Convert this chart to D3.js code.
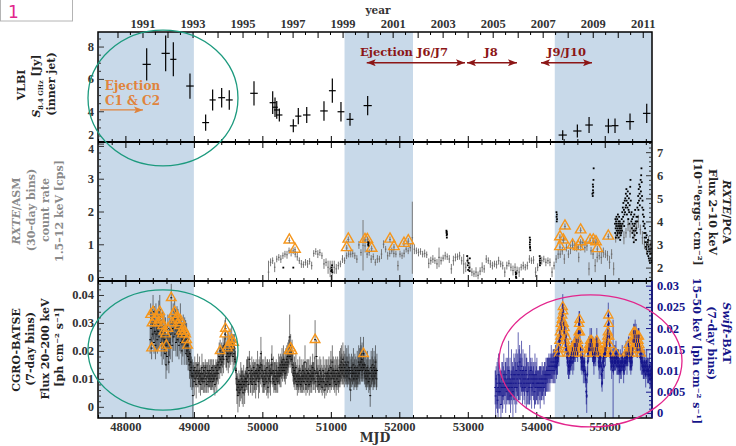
<!DOCTYPE html>
<html>
<head>
<meta charset="utf-8">
<title>Multi-instrument light curves</title>
<script src="https://cdn.jsdelivr.net/npm/d3@7/dist/d3.min.js"></script>
<style>
  html, body { margin: 0; padding: 0; background: #fff; }
  svg { display: block; }
</style>
</head>
<body>
<svg id="chart" width="736" height="446"></svg>
<script>
// ---------------- data ----------------
const mjdRange = [47600, 55690];
const mjdMajorTicks = [48000, 49000, 50000, 51000, 52000, 53000, 54000, 55000];
const yearLabels = [1991, 1993, 1995, 1997, 1999, 2001, 2003, 2005, 2007, 2009, 2011];
const activeEpochs = [[47600, 49000], [51200, 52200], [54270, 55690]];

// VLBI inner-jet flux density at 8.4 GHz [Jy]
const vlbiMjd  = [48311, 48588, 48700, 48943, 49172, 49274, 49406, 49517, 49878, 50151, 50185, 50210, 50248, 50452,
                  50525, 50648, 50900, 51022, 51148, 51280, 51538, 54386, 54600, 54771, 55053, 55150, 55369, 55613];
const vlbiFlux = [6.9, 7.58, 7.21, 5.56, 3.3, 4.7, 4.84, 4.7, 5.11, 4.53, 4.25, 4.08, 3.77, 3.1,
                  3.7, 3.77, 4.02, 5.27, 3.97, 3.5, 4.35, 2.53, 2.78, 3.15, 3.09, 3.11, 3.36, 3.87];
const vlbiErr  = [1.0, 1.1, 1.05, 0.78, 0.5, 0.65, 0.6, 0.6, 0.75, 0.7, 0.6, 0.55, 0.4, 0.4,
                  0.5, 0.5, 0.6, 0.75, 0.6, 0.4, 0.6, 0.3, 0.4, 0.5, 0.45, 0.45, 0.5, 0.6];
const vlbiDays = [60, 60, 45, 55, 50, 45, 50, 50, 55, 45, 40, 40, 45, 50,
                  45, 55, 55, 50, 50, 50, 60, 60, 60, 55, 50, 50, 60, 55];

// RXTE/ASM count rate, 30-day bins [cps]
const asmStart = 50090, asmStep = 30;
const asmRate = [
  .15,.45,.5,.3,.55,.6,.55,.65,.7,.68,
  .8,.75,.8,.7,.62,.5,.4,.38,.45,.4,
  .48,.35,.72,.78,.7,.75,.65,.4,.45,.3,
  .25,.2,.3,.25,.35,.4,.55,.5,.65,.7,
  .7,.72,.65,.55,.98,.75,.97,.95,.7,.75,
  .55,.62,.45,.55,.55,.7,1.0,.85,.65,.72,
  .8,.72,.7,.35,.7,.65,.72,.85,.8,.9,
  1.2,.85,.8,.75,.78,.7,.72,.68,.42,.5,
  .55,.5,.4,.6,.5,.58,.65,.62,.55,.25,
  .5,.6,.62,.65,.5,.4,.3,.55,.3,.15,
  .1,.15,.05,.18,.3,.25,.55,.5,.4,.35,
  .4,.38,.5,.4,.35,.15,.35,.42,.3,.2,
  .3,.2,.15,.3,.35,.3,.35,.55,.5,.52,
  .15,.3,.45,.5,.55,.45,.5,.45,.15,.35,
  .55,.7,.7,.8,.55,.9,.7,.85,1.0,.95,
  .9,.6,.95,1.05,.9,.95,.25,.8,.7,.35,
  .6,.65,.6,.75,.7,.65,.45,.7,.25,1.2,
  1.3,1.4,1.5,1.2,1.35,1.6,1.4,1.5,1.3,1.55,
  1.7,1.45,1.2,1.0,.9,1.1,.9
];
const asmErr = [
  .35,.12,.1,.15,.1,.1,.12,.1,.1,.12,
  .1,.12,.1,.1,.12,.1,.12,.1,.1,.12,
  .1,.12,.1,.1,.12,.1,.1,.15,.12,.2,
  .25,.3,.2,.15,.12,.1,.12,.1,.1,.1,
  .1,.12,.1,.12,.12,.1,.77,.2,.12,.1,
  .12,.1,.1,.12,.1,.15,.12,.1,.12,.1,
  .1,.12,.1,.15,.1,.1,.12,.1,.1,.12,
  1.1,.15,.1,.12,.1,.1,.12,.1,.15,.12,
  .12,.1,.15,.3,.12,.1,.12,.1,.12,.15,
  .15,.12,.1,.12,.12,.3,.15,.12,.15,.12,
  .1,.15,.12,.12,.15,.12,.12,.1,.12,.12,
  .1,.12,.12,.1,.12,.15,.12,.1,.12,.15,
  .12,.12,.15,.1,.12,.1,.12,.12,.1,.12,
  .15,.12,.1,.12,.1,.12,.1,.12,.15,.12,
  .12,.15,.12,.12,.15,.12,.12,.15,.12,.15,
  .12,.15,.15,.12,.15,.15,.2,.12,.15,.2,
  .15,.12,.2,.15,.12,.15,.2,.15,.2,.15,
  .15,.2,.15,.2,.15,.2,.2,.15,.2,.15,
  .2,.15,.2,.15,.2,.15,.2
];
// flagged ASM epochs (open triangles)
const asmFlagMjd  = [50394, 50477, 51232, 51255, 51499, 51533, 51596, 51864, 51922, 52068, 52131,
                     54346, 54346, 54395, 54419, 54530, 54614, 54648, 54648, 54785, 54833, 54872, 54892, 55052];
const asmFlagRate = [1.13, 0.85, 0.90, 1.16, 1.15, 1.15, 0.88, 1.16, 0.93, 1.03, 1.11,
                     1.23, 0.93, 1.13, 1.56, 0.98, 0.93, 1.08, 1.44, 1.13, 1.13, 1.08, 0.87, 1.25];

// RXTE/PCA 2-10 keV flux [1e-10 erg s^-1 cm^-2]
const pcaPoints = [
  [50306,2.0],[50452,2.0],
  [51005,1.85],[51010,2.0],[51014,1.9],[51018,2.1],[51022,1.8],
  [51545,3.0],[51547,3.1],[51549,2.95],[51551,3.05],
  [52688,3.6],[52690,3.5],[52692,3.4],[52694,3.3],[52696,3.45],[52692,3.55],
  [52990,2.5],[52995,2.3],[53000,2.1],[53005,1.9],[53010,2.2],[53020,2.0],[53025,1.85],[53030,2.4],
  [53700,1.8],[53702,1.7],[53704,1.6],[53706,1.75],[53708,1.55],
  [53905,3.3],[53907,3.1],[53909,2.9],[53911,3.2],[53913,2.75],[53906,3.0],[53910,2.85],
  [54050,2.5],[54052,2.3],[54054,2.1],[54056,2.4],[54058,2.2],
  [54295,4.4],[54297,4.2],[54299,4.0],[54301,4.3],[54303,4.1],
  [54820,5.2],[54825,5.1],[54828,5.35],[54830,5.5],[54832,5.25],[54835,5.8],[54838,6.3],[54826,5.6],
  [55150,3.9],[55153,3.5],[55156,4.1],[55159,3.7],[55162,3.3],[55165,4.0],[55168,3.8],[55171,4.2],
  [55174,3.6],[55177,3.9],[55180,3.4],[55183,4.1],[55186,3.7],[55189,3.5],[55192,4.3],[55195,3.8],
  [55198,3.6],[55201,4.0],[55204,3.3],[55207,3.9],[55210,4.2],[55213,3.7],[55216,3.5],[55219,4.0],
  [55222,3.8],[55225,3.2],[55228,3.6],[55231,3.9],[55234,3.4],[55237,3.7],[55240,3.5],
  [55244,3.8],[55248,4.1],[55252,3.6],[55256,4.4],[55260,3.9],[55264,4.6],[55268,4.2],[55272,4.8],
  [55276,4.0],[55280,4.5],[55284,3.8],[55288,4.3],[55292,4.9],[55296,4.4],[55300,5.0],
  [55304,4.6],[55308,5.2],[55312,4.7],[55316,5.4],[55320,4.9],[55324,4.3],[55328,5.1],[55332,4.6],
  [55336,5.3],[55340,4.8],[55344,4.1],[55348,4.5],[55352,5.0],[55356,4.4],[55360,3.9],[55364,4.7],
  [55368,5.2],[55372,5.5],[55376,5.8],[55380,4.9],[55384,4.3],
  [55388,4.0],[55392,4.4],[55396,3.7],[55400,4.1],[55404,3.5],[55408,3.9],[55412,3.3],[55416,4.2],
  [55420,3.6],[55424,3.1],[55428,3.8],[55432,4.3],[55436,3.4],[55440,3.9],[55444,4.5],[55448,3.6],
  [55452,4.0],[55456,3.2],[55460,3.7],[55464,4.2],[55468,3.5],[55472,4.0],[55476,4.6],
  [55480,4.2],[55484,4.8],[55488,5.1],[55492,4.5],[55496,5.4],[55500,4.9],[55504,5.6],[55508,5.2],
  [55512,4.7],[55516,5.5],[55520,5.0],[55524,5.8],[55528,5.3],[55532,6.0],[55536,6.3],[55540,5.7],
  [55544,5.1],[55548,4.6],
  [55552,4.9],[55556,4.3],[55560,4.0],[55564,4.5],[55568,3.8],[55572,4.2],[55576,3.5],[55580,3.9],
  [55584,3.3],[55588,3.7],[55592,3.1],[55596,3.5],[55600,2.9],[55604,3.3],[55608,2.8],[55612,3.4],
  [55616,3.0],[55620,2.6],[55624,3.1],[55628,2.7],[55632,3.2],[55636,2.5],[55640,2.9],[55644,2.4],
  [55648,2.8],[55652,2.3],[55656,2.7],[55660,2.2],[55664,2.6],[55668,3.0],[55672,2.4],[55676,2.8],
  [55680,2.3],[55684,2.6],[55688,2.2]
];

// CGRO/BATSE 20-200 keV flux, 7-day bins [ph cm^-2 s^-1]
const batseStart = 48362, batseStep = 7;
const batseFlux = [
  .024,.033,.028,.021,.030,.026,.034,.029,.023,.031,
  .027,.022,.032,.026,.029,.024,.030,.027,.033,.025,
  .034,.028,.031,.023,.026,.021,.029,.025,.022,.027,
  .024,.019,.026,.015,.022,.018,.025,.028,.021,.016,
  .023,.027,.021,.026,.039,.030,.022,.028,.033,.025,
  .029,.034,.026,.031,.023,.028,.032,.024,.030,.027,
  .022,.029,.025,.031,.023,.027,.020,.026,.024,.028,
  .025,.021,.027,.023,.026,.019,.024,.020,.022,.018,
  .021,.017,.015,.019,.013,.016,.014,.011,.012,.004,
  .011,.013,.009,.014,.010,.012,.008,.013,.011,.015,
  .010,.012,.009,.013,.011,.008,.012,.010,.014,.009,
  .012,.010,.013,.009,.011,.014,.010,.012,.008,.011,
  .013,.009,.012,.010,.011,.013,.009,.012,.010,.014,
  .011,.009,.013,.010,.012,.008,.011,.014,.012,.010,
  .013,.015,.012,.016,.018,.014,.020,.017,.015,.019,
  .016,.018,.021,.017,.019,.022,.026,.028,.020,.018,
  .017,.021,.019,.016,.022,.018,.020,.023,.019,.021,
  .024,.020,.022,.018,.023,.019,.021,.017,.016,.013,
  .010,.006,.008,.004,.007,.009,.005,.008,.006,.011,
  .008,.010,.007,.009,.005,.011,.008,.006,.009,.010,
  .010,.012,.009,.014,.011,.008,.013,.017,.012,.010,
  .009,.011,.013,.008,.012,.010,.014,.009,.011,.012,
  .008,.013,.010,.012,.015,.011,.009,.013,.010,.014,
  .012,.019,.015,.011,.013,.010,.009,.012,.008,.011,
  .013,.010,.012,.009,.014,.011,.007,.012,.010,.013,
  .011,.009,.012,.015,.017,.012,.010,.013,.009,.011,
  .012,.008,.011,.013,.010,.012,.009,.011,.014,.012,
  .013,.011,.015,.012,.014,.016,.013,.015,.017,.014,
  .013,.015,.012,.016,.014,.017,.015,.018,.016,.019,
  .020,.025,.018,.021,.019,.017,.020,.015,.014,.012,
  .011,.013,.010,.012,.014,.009,.011,.008,.012,.010,
  .009,.011,.013,.010,.008,.012,.009,.011,.010,.013,
  .011,.009,.012,.016,.010,.008,.011,.013,.009,.012,
  .010,.012,.008,.011,.013,.009,.011,.010,.012,.014,
  .011,.012,.010,.013,.024,.009,.012,.018,.011,.010,
  .012,.009,.011,.008,.013,.010,.012,.009,.011,.007,
  .010,.013,.009,.011,.006,.012,.010,.008,.012,.011,
  .009,.012,.010,.013,.011,.008,.012,.014,.010,.012,
  .016,.011,.013,.010,.012,.009,.011,.013,.008,.012,
  .010,.013,.011,.009,.012,.014,.011,.015,.013,.016,
  .014,.012,.017,.013,.015,.011,.014,.016,.012,.013,
  .015,.011,.013,.016,.012,.014,.010,.013,.006,.012,
  .014,.011,.013,.012,.015,.010,.012,.014,.011,.013,
  .012,.010,.014,.011,.013,.016,.012,.015,.013,.019,
  .016,.014,.017,.013,.015,.019,.014,.012,.015,.011,
  .013,.010,.012,.014,.011,.013,.009,.012,.010,.004,
  .012,.014,.011,.013,.015,.010,.012,.014,.011,.013,
  .016,.012,.010,.013
];
// 1-sigma errors in units of 0.001 ph cm^-2 s^-1
const batseErrMilli = [
  5,4,6,4,5,4,6,5,4,5, 4,5,5,6,4,5,4,6,5,4, 6,5,4,5,4,6,5,4,5,6, 5,4,6,5,4,5,4,5,6,4,
  5,6,4,5,5,4,6,5,4,5, 4,5,6,4,5,5,4,6,5,4, 5,4,5,6,4,5,5,4,6,5, 4,6,5,4,5,4,6,5,4,5,
  5,4,5,4,6,5,4,5,5,8, 4,3,5,4,3,4,5,3,4,4, 3,4,4,5,3,4,3,4,5,3, 4,5,3,4,4,3,5,4,3,4,
  3,4,5,3,4,4,3,5,4,3, 4,3,4,5,3,4,4,3,4,5, 4,5,4,3,5,4,4,5,3,4, 5,4,4,5,4,3,5,4,6,4,
  4,5,3,4,5,4,4,5,4,3, 5,4,4,5,3,4,5,4,4,5, 4,5,4,6,3,4,5,4,4,5, 5,4,6,4,5,4,4,5,4,3,
  4,5,3,4,6,4,5,3,4,5, 4,3,5,4,4,5,3,4,5,4, 5,4,4,3,5,4,6,4,5,4, 4,6,5,4,4,5,4,5,3,4,
  5,4,4,5,3,6,4,4,5,4, 4,5,4,4,5,4,3,5,4,5, 4,3,5,4,5,4,4,3,5,4, 5,4,4,5,4,5,4,4,5,4,
  4,5,4,5,4,5,4,5,4,5, 5,8,4,5,4,5,4,4,5,4, 4,5,4,4,5,3,4,4,5,4, 4,4,5,4,3,5,4,4,5,4,
  5,4,4,6,4,4,5,4,4,5, 4,5,4,4,5,4,4,5,4,5, 5,4,4,5,7,4,5,6,4,4, 5,4,4,3,5,4,5,4,4,3,
  4,5,4,4,3,5,4,4,5,4, 4,5,4,5,4,3,5,6,4,5, 6,4,5,4,5,4,4,5,4,5, 4,5,4,4,5,6,4,6,5,6,
  5,4,6,5,5,4,5,6,4,5, 6,4,5,6,4,5,4,5,4,5, 5,4,5,4,6,4,5,5,4,5, 5,4,6,4,5,6,4,6,5,6,
  6,5,6,4,5,6,5,4,5,4, 5,4,5,6,4,5,4,5,4,4, 5,6,4,5,6,4,5,6,4,5, 6,5,4,6
];
// BATSE bins marked with open triangles
const batseFlagged = [1,3,4,6,9,12,16,18,20,22,25,26,29,32,34,37,44,45,48,51,53,56,58,61,63,65,67,69,72,74,76,78,
                      146,156,157,161,164,167,170,174,290,293,296,344,445];

// Swift/BAT 15-50 keV flux, 7-day bins [ph cm^-2 s^-1]
const batStart = 53400, batStep = 7;
const batFlux = [
  .006,.004,.008,.005,.007,.003,.006,.009,.005,.007,
  .005,.007,.002,.006,.008,.006,.004,.007,.009,.006,
  .007,.008,.006,.009,.005,.007,.008,.006,.010,.007,
  .006,.008,.004,.007,.009,.006,.008,.005,.007,.009,
  .008,.006,.009,.007,.010,.006,.008,.009,.011,.007,
  .009,.012,.008,.010,.007,.011,.009,.006,.010,.008,
  .007,.009,.006,.008,.010,.007,.009,.005,.008,.007,
  .008,.006,.009,.007,.010,.008,.006,.009,.007,.008,
  .007,.009,.005,.008,.006,.009,.007,.008,.006,.007,
  .007,.006,.008,.007,.006,.008,.007,.006,.008,.007,
  .007,.008,.006,.009,.008,.007,.009,.008,.010,.009,
  .010,.009,.011,.010,.009,.011,.010,.012,.011,.010,
  .011,.012,.011,.010,.012,.011,.013,.012,.011,.013,
  .012,.013,.015,.014,.017,.019,.018,.021,.020,.022,
  .023,.025,.024,.021,.019,.020,.017,.016,.018,.015,
  .013,.012,.014,.011,.010,.012,.011,.013,.012,.014,
  .013,.015,.012,.014,.013,.016,.015,.014,.016,.017,
  .015,.016,.014,.017,.019,.021,.022,.019,.015,.013,
  .012,.011,.013,.012,.010,.011,.012,.010,.009,.008,
  .005,.004,.009,.012,.014,.015,.016,.015,.017,.016,
  .015,.017,.016,.014,.015,.013,.012,.014,.013,.015,
  .014,.016,.017,.015,.016,.014,.012,.011,.013,.012,
  .013,.011,.009,.007,.010,.012,.013,.011,.014,.015,
  .014,.015,.016,.017,.018,.019,.023,.021,.018,.016,
  .014,.013,.012,.011,.013,.012,.010,.011,.013,.012,
  .013,.012,.014,.013,.011,.012,.013,.012,.011,.010,
  .011,.012,.010,.011,.012,.013,.012,.011,.010,.011,
  .012,.013,.012,.014,.013,.012,.013,.014,.016,.015,
  .014,.013,.012,.011,.013,.012,.014,.015,.017,.019,
  .018,.017,.019,.016,.018,.017,.015,.016,.018,.017,
  .018,.016,.015,.013,.014,.012,.013,.011,.012,.010,
  .011,.010,.012,.011,.009,.010,.012,.011,.010,.009,
  .010,.009,.011,.008,.009,.010,.008
];
// 1-sigma errors in units of 0.001 ph cm^-2 s^-1
const batErrMilli = [
  4,6,3,4,5,3,7,5,4,3, 4,3,5,4,4,6,3,4,5,4, 3,4,6,4,3,4,5,4,7,4, 4,5,4,3,6,4,4,6,4,5,
  5,4,3,7,5,4,4,5,8,4, 6,4,5,4,3,6,4,4,5,3, 4,5,4,3,4,6,4,3,4,5, 3,4,7,4,3,4,5,4,3,4,
  4,3,4,6,4,3,4,5,4,3, 3,4,3,4,5,3,4,3,4,3, 4,3,4,3,4,3,4,3,3,4, 3,4,3,3,4,3,3,4,3,3,
  3,3,4,3,3,4,3,3,3,4, 3,2,3,3,2,3,3,2,3,2, 3,3,2,3,2,2,3,2,3,2, 2,3,2,3,2,3,2,3,2,3,
  3,2,3,2,3,2,3,2,3,2, 2,3,2,3,2,3,2,3,2,3, 2,2,3,2,3,2,2,3,2,2, 3,4,2,3,2,3,2,2,3,2,
  2,3,2,2,3,2,3,2,2,3, 3,2,3,2,2,3,2,3,2,3, 2,3,3,2,3,2,2,3,2,2, 3,2,3,2,3,2,3,2,2,3,
  2,3,2,3,2,2,12,2,3,2, 3,2,3,2,2,3,2,3,2,3, 2,3,2,3,2,3,2,2,3,2, 3,2,2,3,2,3,2,3,2,3,
  2,3,2,2,3,2,3,2,3,2, 3,2,3,2,3,2,2,3,2,3, 2,3,2,3,2,3,2,2,3,2, 3,2,3,2,3,2,3,2,3,2,
  3,2,3,2,3,2,3
];
const batFlagLevel = 0.0135;   // BAT bins at or above this level during the last epoch carry a triangle
const batFlagFrom = 54270;

// jet ejection episodes (MJD ranges)
const ejectionC = { from: 47629, to: 48257 };
const ejections = [
  { label: "Ejection J6/J7", from: 51524, to: 52959 },
  { label: "J8",             from: 52988, to: 53718 },
  { label: "J9/J10",         from: 54069, to: 54814 }
];

// ---------------- layout ----------------
const L = 98, R = 652;
const P1 = [32, 142], P2 = [142, 281], P3 = [281, 418];
const NUM_FONT = '"Liberation Serif", "Times New Roman", serif';
const TXT_FONT = '"DejaVu Serif", "Liberation Serif", serif';
const SHADE = "#c8d9e9";
const TRI = "#f5961c";
const NAVY = "#14148a";
const TEAL = "#1c9a7e";
const PINK = "#e3258c";
const DARKRED = "#8c1616";
const ORANGE = "#e0843c";

const x  = d3.scaleLinear().domain(mjdRange).range([L, R]);
const yV = d3.scaleLinear().domain([2.1, 8.9]).range([P1[1], P1[0]]);
const yA = d3.scaleLinear().domain([-0.12, 4.12]).range([P2[1], P2[0]]);
const yP = d3.scaleLinear().domain([1.42, 7.44]).range([P2[1], P2[0]]);
const yB = d3.scaleLinear().domain([-0.0040, 0.0450]).range([P3[1], P3[0]]);
const yS = d3.scaleLinear().domain([-0.0012, 0.0311]).range([P3[1], P3[0]]);

const svg = d3.select("#chart");
const defs = svg.append("defs");
[["cV", P1], ["cA", P2], ["cB", P3]].forEach(([id, p]) => {
  defs.append("clipPath").attr("id", id).append("rect")
    .attr("x", L).attr("y", p[0]).attr("width", R - L).attr("height", p[1] - p[0]);
});
function marker(id, color) {
  defs.append("marker").attr("id", id).attr("markerUnits", "userSpaceOnUse")
    .attr("markerWidth", 9).attr("markerHeight", 7).attr("refX", 9).attr("refY", 3.5)
    .attr("orient", "auto-start-reverse")
    .append("path").attr("d", "M0,0 L9,3.5 L0,7 L2,3.5 Z").attr("fill", color);
}
marker("headRed", DARKRED);
marker("headOrange", ORANGE);

// small boxed tag in the corner
svg.append("rect").attr("x", 0.5).attr("y", -1).attr("width", 72).attr("height", 22)
  .attr("fill", "#fff").attr("stroke", "#b4b4b4");
svg.append("text").attr("x", 8).attr("y", 18).attr("font-family", '"DejaVu Sans", sans-serif')
  .attr("font-size", 17).attr("fill", "#e2268c").text("1");

// active-state epochs
activeEpochs.forEach(([a, b]) => {
  svg.append("rect").attr("x", x(a)).attr("y", P1[0]).attr("width", x(b) - x(a))
    .attr("height", P3[1] - P1[0]).attr("fill", SHADE);
});

// ---------------- VLBI ----------------
const gV = svg.append("g").attr("clip-path", "url(#cV)").attr("stroke", "#000").attr("stroke-width", 1.2);
vlbiMjd.forEach((m, i) => {
  gV.append("line").attr("x1", x(m)).attr("x2", x(m))
    .attr("y1", yV(vlbiFlux[i] - vlbiErr[i])).attr("y2", yV(vlbiFlux[i] + vlbiErr[i]));
  gV.append("line").attr("x1", x(m - vlbiDays[i])).attr("x2", x(m + vlbiDays[i]))
    .attr("y1", yV(vlbiFlux[i])).attr("y2", yV(vlbiFlux[i]));
});

// ---------------- ASM + PCA ----------------
const gA = svg.append("g").attr("clip-path", "url(#cA)");
asmRate.forEach((v, i) => {
  const m = asmStart + i * asmStep;
  gA.append("line").attr("x1", x(m)).attr("x2", x(m))
    .attr("y1", yA(v - asmErr[i])).attr("y2", yA(v + asmErr[i]))
    .attr("stroke", "#7a7a7a").attr("stroke-width", 1);
  gA.append("line").attr("x1", x(m - asmStep / 2) + 0.3).attr("x2", x(m + asmStep / 2) - 0.3)
    .attr("y1", yA(v)).attr("y2", yA(v)).attr("stroke", "#6a6a6a").attr("stroke-width", 1.2);
});
const triSym = (s) => d3.symbol(d3.symbolTriangle).size(s)();
asmFlagMjd.forEach((m, i) => {
  const g = gA.append("g").attr("transform", `translate(${x(m)},${yA(asmFlagRate[i])})`);
  g.append("path").attr("d", triSym(48)).attr("fill", "none").attr("stroke", TRI).attr("stroke-width", 1.4);
  g.append("line").attr("x1", 0).attr("x2", 0).attr("y1", -2.5).attr("y2", 3)
    .attr("stroke", "#777").attr("stroke-width", 1);
  g.append("line").attr("x1", -1).attr("x2", 1).attr("y1", 0.5).attr("y2", 0.5)
    .attr("stroke", "#777").attr("stroke-width", 1);
});
pcaPoints.forEach(([m, f]) => {
  gA.append("rect").attr("x", x(m) - 0.9).attr("y", yP(f) - 0.9).attr("width", 1.8).attr("height", 1.8)
    .attr("fill", "#000");
});

// ---------------- BATSE + BAT ----------------
const gB = svg.append("g").attr("clip-path", "url(#cB)");
batseFlux.forEach((v, i) => {
  const m = batseStart + i * batseStep, e = batseErrMilli[i] / 1000;
  gB.append("line").attr("x1", x(m)).attr("x2", x(m)).attr("y1", yB(v - e)).attr("y2", yB(v + e))
    .attr("stroke", "#222").attr("stroke-opacity", 0.6).attr("stroke-width", 1);
  gB.append("line").attr("x1", x(m) - 1).attr("x2", x(m) + 1).attr("y1", yB(v)).attr("y2", yB(v))
    .attr("stroke", "#000").attr("stroke-width", 1);
});
batseFlagged.forEach(i => {
  const m = batseStart + i * batseStep;
  gB.append("path").attr("transform", `translate(${x(m)},${yB(batseFlux[i])})`)
    .attr("d", triSym(40)).attr("fill", "none").attr("stroke", TRI).attr("stroke-width", 1.4);
});
batFlux.forEach((v, i) => {
  const m = batStart + i * batStep, e = batErrMilli[i] / 1000;
  gB.append("line").attr("x1", x(m)).attr("x2", x(m)).attr("y1", yS(v - e)).attr("y2", yS(v + e))
    .attr("stroke", NAVY).attr("stroke-opacity", 0.65).attr("stroke-width", 1);
  gB.append("line").attr("x1", x(m) - 1).attr("x2", x(m) + 1).attr("y1", yS(v)).attr("y2", yS(v))
    .attr("stroke", NAVY).attr("stroke-width", 1);
});
batFlux.forEach((v, i) => {
  const m = batStart + i * batStep;
  if (m >= batFlagFrom && v >= batFlagLevel) {
    gB.append("path").attr("transform", `translate(${x(m)},${yS(v)})`)
      .attr("d", triSym(36)).attr("fill", "none").attr("stroke", TRI).attr("stroke-width", 1.3);
  }
});
// redraw BAT points on top of the triangles
batFlux.forEach((v, i) => {
  const m = batStart + i * batStep;
  if (m >= batFlagFrom) {
    gB.append("line").attr("x1", x(m)).attr("x2", x(m)).attr("y1", yS(v) - 2).attr("y2", yS(v) + 2)
      .attr("stroke", NAVY).attr("stroke-width", 1);
  }
});

// ---------------- frames ----------------
const frame = svg.append("g").attr("fill", "none").attr("stroke", "#000");
frame.append("rect").attr("x", L).attr("y", P1[0]).attr("width", R - L).attr("height", P3[1] - P1[0])
  .attr("stroke-width", 1.5);
[P1[1], P2[1]].forEach(yy => {
  frame.append("line").attr("x1", L).attr("x2", R).attr("y1", yy).attr("y2", yy).attr("stroke-width", 2.2);
});
frame.append("line").attr("x1", R).attr("x2", R).attr("y1", P3[0]).attr("y2", P3[1])
  .attr("stroke", NAVY).attr("stroke-width", 1.5);

// ---------------- axes ----------------
function styleAxis(g, color, size) {
  g.attr("font-family", NUM_FONT).attr("font-size", size).attr("font-weight", "bold");
  g.select(".domain").remove();
  g.selectAll(".tick line").attr("stroke", color).attr("stroke-width", 1);
  g.selectAll(".tick text").attr("fill", color);
  return g;
}
function vAxis(scale, side, x0, major, minor, fmt, color, pad) {
  const make = side === "left" ? d3.axisLeft : d3.axisRight;
  styleAxis(svg.append("g").attr("transform", `translate(${x0},0)`)
    .call(make(scale).tickValues(minor).tickSizeInner(-3).tickSizeOuter(0).tickFormat("")), color, 12);
  return styleAxis(svg.append("g").attr("transform", `translate(${x0},0)`)
    .call(make(scale).tickValues(major).tickSizeInner(-6).tickSizeOuter(0).tickPadding(pad).tickFormat(fmt)), color, 12.5);
}
function hTicks(y0, dir, labels) {
  const make = dir === "up" ? d3.axisBottom : d3.axisTop;
  const minor = d3.range(47600, 55700, 200).filter(v => v % 1000 !== 0);
  styleAxis(svg.append("g").attr("transform", `translate(0,${y0})`)
    .call(make(x).tickValues(minor).tickSizeInner(-3).tickSizeOuter(0).tickFormat("")), "#000", 12);
  const g = svg.append("g").attr("transform", `translate(0,${y0})`)
    .call(make(x).tickValues(mjdMajorTicks).tickSizeInner(-6).tickSizeOuter(0).tickPadding(4)
      .tickFormat(labels ? d3.format("d") : ""));
  return styleAxis(g, "#000", 12.5);
}
hTicks(P1[1], "up", false);
hTicks(P2[0], "down", false);
hTicks(P2[1], "up", false);
hTicks(P3[0], "down", false);
const gBottom = hTicks(P3[1], "up", true);
gBottom.selectAll(".tick text").attr("fill", "#333");

// calendar-year axis on top
const mjdOf = (yr, mon) => Date.UTC(yr, mon, 1) / 864e5 + 40587;
const yearTicks = d3.range(1990, 2013).map(yr => mjdOf(yr, 0)).filter(m => m > mjdRange[0] && m < mjdRange[1]);
const halfTicks = d3.range(1990, 2012).map(yr => mjdOf(yr, 6)).filter(m => m > mjdRange[0] && m < mjdRange[1]);
const gYear = svg.append("g").attr("stroke", "#000").attr("stroke-width", 1);
yearTicks.forEach(m => gYear.append("line").attr("x1", x(m)).attr("x2", x(m)).attr("y1", P1[0]).attr("y2", P1[0] + 6));
halfTicks.forEach(m => gYear.append("line").attr("x1", x(m)).attr("x2", x(m)).attr("y1", P1[0]).attr("y2", P1[0] + 3));
svg.append("g").selectAll("text").data(yearLabels).join("text")
  .attr("x", d => x(mjdOf(d, 0))).attr("y", 28).attr("text-anchor", "middle")
  .attr("font-family", NUM_FONT).attr("font-weight", "bold").attr("font-size", 12.5).attr("fill", "#333")
  .text(d => d);
svg.append("text").attr("x", 378).attr("y", 14).attr("text-anchor", "middle")
  .attr("font-family", TXT_FONT).attr("font-weight", "bold").attr("font-size", 10.5).attr("fill", "#333").text("year");
svg.append("text").attr("x", 375).attr("y", 442).attr("text-anchor", "middle")
  .attr("font-family", TXT_FONT).attr("font-weight", "bold").attr("font-size", 12.5).attr("fill", "#333").text("MJD");

// left & right value axes
const gVL = vAxis(yV, "left", L, [2, 4, 6, 8], d3.range(2.5, 8.9, 0.5).filter(v => v % 2 !== 0), d3.format("d"), "#333", 4);
gVL.selectAll(".tick text").filter(d => d === 2).attr("dy", "-5.5px").attr("font-size", 11.5);
const gAL = vAxis(yA, "left", L, [0, 1, 2, 3, 4], d3.range(0, 4.1, 0.2).filter(v => Math.abs(v - Math.round(v)) > 0.01),
  d3.format("d"), "#333", 4);
gAL.selectAll(".tick text").filter(d => d === 4).attr("dy", "7px").attr("font-size", 11.5);
vAxis(yB, "left", L, [0, 0.01, 0.02, 0.03, 0.04], d3.range(-0.002, 0.045, 0.002).filter(v => Math.abs(v * 100 - Math.round(v * 100)) > 0.01),
  d => d === 0 ? "0" : d3.format(".2f")(d), "#333", 4);
vAxis(yP, "right", R, [2, 3, 4, 5, 6, 7], d3.range(1.6, 7.4, 0.2).filter(v => Math.abs(v - Math.round(v)) > 0.01),
  d3.format("d"), "#333", 5);
vAxis(yS, "right", R, [0, 0.005, 0.01, 0.015, 0.02, 0.025, 0.03], d3.range(0.001, 0.031, 0.001).filter(v => Math.abs(v * 200 - Math.round(v * 200)) > 0.01),
  d => d === 0 ? "0" : String(+d.toFixed(3)), NAVY, 5);

// ---------------- axis titles ----------------
function rotText(px, py, angle, parts, size, color) {
  const t = svg.append("text").attr("transform", `translate(${px},${py}) rotate(${angle})`)
    .attr("text-anchor", "middle").attr("font-family", TXT_FONT).attr("font-weight", "bold")
    .attr("font-size", size).attr("fill", color);
  let shift = 0;
  parts.forEach(([s, st]) => {
    const sp = t.append("tspan").text(s);
    let want = 0;
    if (st === "i") sp.attr("font-style", "italic");
    if (st === "sub") { sp.attr("font-size", size * 0.6); want = 2.5; }
    if (want !== shift) { sp.attr("dy", want - shift); shift = want; }
  });
  return t;
}
// VLBI
rotText(25, 85, -90, [["VLBI", ""]], 11, "#222");
rotText(40, 86, -90, [["S", "i"], ["8.4 GHz", "sub"], [" [Jy]", ""]], 11, "#222");
rotText(55, 84, -90, [["(inner jet)", ""]], 11, "#222");
// ASM
const ASMGREY = "#8a8a8a";
rotText(20, 211, -90, [["RXTE", "i"], ["/ASM", ""]], 11, ASMGREY);
rotText(35, 210, -90, [["(30–day bins)", ""]], 11, ASMGREY);
rotText(49, 210, -90, [["count rate", ""]], 11, ASMGREY);
rotText(63, 211, -90, [["1.5–12 keV [cps]", ""]], 11, ASMGREY);
// BATSE
rotText(20, 350, -90, [["CGRO-BATSE", ""]], 11, "#222");
rotText(34, 349, -90, [["(7-day bins)", ""]], 11, "#222");
rotText(49, 349, -90, [["Flux 20–200 keV", ""]], 11, "#222");
rotText(63, 347, -90, [["[ph cm⁻² s⁻¹]", ""]], 11, "#222");
// PCA
rotText(723, 212, 90, [["RXTE", "i"], ["/PCA", ""]], 11, "#222");
rotText(709, 212, 90, [["Flux 2–10 keV", ""]], 11, "#222");
rotText(694, 212, 90, [["[10⁻¹⁰ergs⁻¹cm⁻²]", ""]], 11, "#222");
// BAT
rotText(723, 333, 90, [["Swift", "i"], ["-BAT", ""]], 11, NAVY);
rotText(708, 343, 90, [["(7-day bins)", ""]], 11, NAVY);
rotText(693, 351, 90, [["15–50 keV [ph cm⁻² s⁻¹]", ""]], 11, NAVY);

// ---------------- ejection annotations ----------------
const arrowY = yV(7.0), labelY = yV(7.4);
ejections.forEach(ej => {
  svg.append("line").attr("x1", x(ej.from)).attr("x2", x(ej.to)).attr("y1", arrowY).attr("y2", arrowY)
    .attr("stroke", DARKRED).attr("stroke-width", 1.3)
    .attr("marker-start", "url(#headRed)").attr("marker-end", "url(#headRed)");
});
svg.append("text").attr("x", 360).attr("y", labelY).attr("font-family", TXT_FONT).attr("font-weight", "bold")
  .attr("font-size", 11.5).attr("fill", DARKRED).text(ejections[0].label);
svg.append("text").attr("x", x((ejections[1].from + ejections[1].to) / 2) - 1).attr("y", labelY)
  .attr("text-anchor", "middle").attr("font-family", TXT_FONT).attr("font-weight", "bold")
  .attr("font-size", 11.5).attr("fill", DARKRED).text(ejections[1].label);
svg.append("text").attr("x", x((ejections[2].from + ejections[2].to) / 2)).attr("y", labelY)
  .attr("text-anchor", "middle").attr("font-family", TXT_FONT).attr("font-weight", "bold")
  .attr("font-size", 11.5).attr("fill", DARKRED).text(ejections[2].label);

svg.append("line").attr("x1", x(ejectionC.from)).attr("x2", x(ejectionC.to))
  .attr("y1", yV(4.08)).attr("y2", yV(4.08)).attr("stroke", ORANGE).attr("stroke-width", 1.3)
  .attr("marker-end", "url(#headOrange)");
const cMid = x((ejectionC.from + ejectionC.to) / 2) + 11;
svg.append("text").attr("x", cMid).attr("y", yV(5.3)).attr("text-anchor", "middle")
  .attr("font-family", TXT_FONT).attr("font-weight", "bold").attr("font-size", 12).attr("fill", ORANGE).text("Ejection");
svg.append("text").attr("x", cMid).attr("y", yV(4.37)).attr("text-anchor", "middle")
  .attr("font-family", TXT_FONT).attr("font-weight", "bold").attr("font-size", 12).attr("fill", ORANGE).text("C1 & C2");

// ---------------- highlight ellipses ----------------
function ellipse(ys, mjd, val, dMjd, dVal, color) {
  svg.append("ellipse").attr("cx", x(mjd)).attr("cy", ys(val))
    .attr("rx", x(mjd + dMjd) - x(mjd)).attr("ry", ys(val - dVal) - ys(val))
    .attr("fill", "none").attr("stroke", color).attr("stroke-width", 1.3);
}
ellipse(yV, 48549, 4.82, 1095, 4.2, TEAL);
ellipse(yB, 48549, 0.0203, 1095, 0.0215, TEAL);
ellipse(yS, 54792, 0.01226, 1336, 0.01557, PINK);
</script>
</body>
</html>
